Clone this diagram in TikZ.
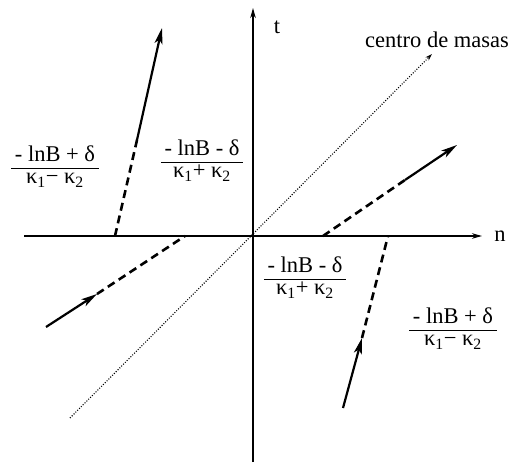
\documentclass[tikz,border=0pt]{standalone}
\usepackage{fontspec}
\setmainfont{Liberation Serif}
\usetikzlibrary{arrows.meta}
\newcommand\myfr[2]{{\setlength\arrayrulewidth{1.1pt}\renewcommand\arraystretch{0.85}\begin{tabular}{@{\,}c@{\,}}#1\\\hline #2\end{tabular}}}
\begin{document}
\begin{tikzpicture}[x=1pt,y=-1pt,
  font=\fontsize{22.5}{25}\selectfont,
  axis/.style={line width=1.4pt,-{Stealth[length=10pt,width=5.5pt]}},
  solidarrow/.style={line width=2.2pt,-{Stealth[length=16pt,width=8pt,inset=4pt]}},
  dashseg/.style={line width=2.6pt,dash pattern=on 8pt off 5pt},
  cmline/.style={line width=1.1pt,dash pattern=on 1pt off 1.6pt,-{Stealth[length=7pt,width=4.5pt]}},
  lbl/.style={inner sep=0pt}]
\useasboundingbox (0,0) rectangle (512,465);
% coordinates
\coordinate (O) at (253,236);
\coordinate (xl) at (24,236);
\coordinate (xr) at (482,236);
\coordinate (yb) at (253,462);
\coordinate (yt) at (253,8);
\coordinate (cm1) at (70,418);
\coordinate (cm2) at (432,54);
\coordinate (a1s) at (115,236);
\coordinate (a1m) at (137,140);
\coordinate (a1e) at (162,28);
\coordinate (a2s) at (46,327);
\coordinate (a2m) at (97,294);
\coordinate (a2e) at (185,236);
\coordinate (a3s) at (323,236);
\coordinate (a3m) at (405,180);
\coordinate (a3e) at (457,145);
\coordinate (a4s) at (343,408);
\coordinate (a4m) at (362,338);
\coordinate (a4e) at (388,236);
% axes
\draw[axis] (xl) -- (xr);
\draw[axis] (yb) -- (yt);
% centre of mass line
\draw[cmline] (cm1) -- (cm2);
% trajectories
\draw[dashseg] (a1s) -- (a1m);
\draw[solidarrow] (a1m) -- (a1e);
\draw[solidarrow] (a2s) -- (a2m);
\draw[dashseg] (a2m) -- (a2e);
\draw[dashseg] (a3s) -- (a3m);
\draw[solidarrow] (a3m) -- (a3e);
\draw[solidarrow] (a4s) -- (a4m);
\draw[dashseg] (a4m) -- (a4e);
% labels
\node[lbl] (lt) at (277,27) {t};
\node[lbl] (ln) at (500,236) {n};
\node[lbl] (lcm) at (437,40) {centro de masas};
\node[lbl] (fa) at (55,168) {\myfr{- lnB + δ}{κ\textsubscript{1}− κ\textsubscript{2}}};
\node[lbl] (fb) at (202,162) {\myfr{- lnB - δ}{κ\textsubscript{1}+ κ\textsubscript{2}}};
\node[lbl] (fc) at (305,279) {\myfr{- lnB - δ}{κ\textsubscript{1}+ κ\textsubscript{2}}};
\node[lbl] (fd) at (453,330) {\myfr{- lnB + δ}{κ\textsubscript{1}− κ\textsubscript{2}}};
\end{tikzpicture}
\end{document}
